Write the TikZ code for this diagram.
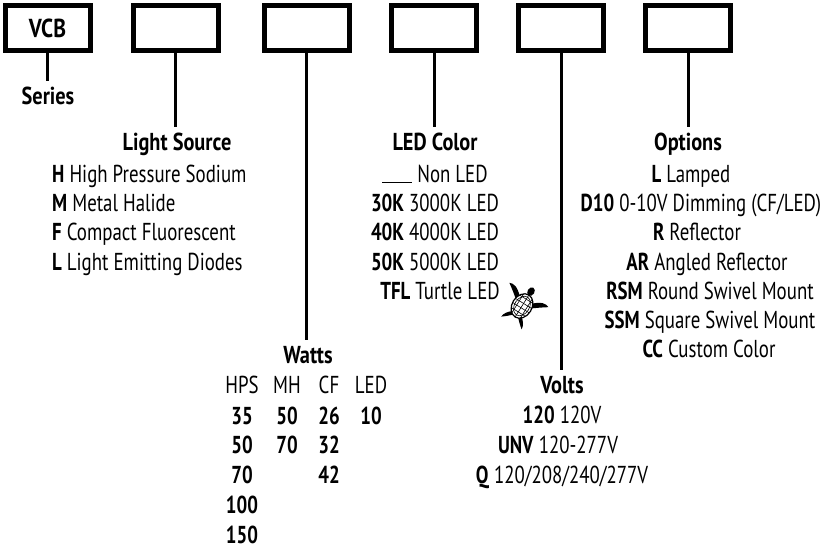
\documentclass[tikz,border=0pt]{standalone}
\usepackage{fontspec}
\setmainfont[FakeStretch=0.77]{PT Sans}
\newfontfamily\titlefont[FakeStretch=0.83]{PT Sans}
\begin{document}
\fontsize{24.5}{28}\selectfont
\begin{tikzpicture}[x=1pt,y=-1pt,
  box/.style={draw,line width=5pt,minimum width=85pt,minimum height=45pt,inner sep=0pt},
  conn/.style={line width=3pt},
  title/.style={font=\titlefont\bfseries,anchor=base,text height=17pt,inner ysep=6pt,inner xsep=0pt},
  item/.style={anchor=base,inner sep=0pt},
  lit/.style={anchor=base west,inner sep=0pt}]
\useasboundingbox (0,0) rectangle (825,549);
% boxes
\node[box,font=\titlefont\bfseries\fontsize{26}{28}\selectfont] (b1) at (47.5,28) {VCB};
\node[box] (b2) at (175.5,28) {};
\node[box] (b3) at (306.5,28) {};
\node[box] (b4) at (434,28) {};
\node[box] (b5) at (561,28) {};
\node[box] (b6) at (688,28) {};
% titles
\node[title] (series) at (48,104) {Series};
\node[title] (lsrc) at (177,150) {Light Source};
\node[title] (watts) at (308,363) {Watts};
\node[title] (ledc) at (435,150) {LED Color};
\node[title] (volts) at (562,393) {Volts};
\node[title] (opts) at (688,150) {Options};
% connectors
\draw[conn] (b1.south) -- (b1.south |- series.north);
\draw[conn] (b2.south) -- (b2.south |- lsrc.north);
\draw[conn] (b3.south) -- (b3.south |- watts.north);
\draw[conn] (b4.south) -- (b4.south |- ledc.north);
\draw[conn] (b5.south) -- (b5.south |- volts.north);
\draw[conn] (b6.south) -- (b6.south |- opts.north);
% light source
\node[lit] (ls1) at (52,182) {\textbf{H} High Pressure Sodium};
\node[lit] (ls2) at (52,211) {\textbf{M} Metal Halide};
\node[lit] (ls3) at (52,240.5) {\textbf{F} Compact Fluorescent};
\node[lit] (ls4) at (52,270) {\textbf{L} Light Emitting Diodes};
% LED color
\node[item] (lc1) at (435,182) {\rule[-1pt]{30pt}{1.5pt} Non LED};
\node[item] (lc2) at (435,211) {\textbf{30K} 3000K LED};
\node[item] (lc3) at (435,240.5) {\textbf{40K} 4000K LED};
\node[item] (lc4) at (435,270) {\textbf{50K} 5000K LED};
\node[item] (lc5) at (440,299) {\textbf{TFL} Turtle LED};
% options
\node[item] (o1) at (691,182) {\textbf{L} Lamped};
\node[item] (o2) at (701,211) {\textbf{D10} 0-10V Dimming (CF/LED)};
\node[item] (o3) at (697,240.5) {\textbf{R} Reflector};
\node[item] (o4) at (707,270) {\textbf{AR} Angled Reflector};
\node[item] (o5) at (710,299) {\textbf{RSM} Round Swivel Mount};
\node[item] (o6) at (710,328) {\textbf{SSM} Square Swivel Mount};
\node[item] (o7) at (709,357) {\textbf{CC} Custom Color};
% watts
\node[item] (wh1) at (242,393) {HPS};
\node[item] (wh2) at (287,393) {MH};
\node[item] (wh3) at (329,393) {CF};
\node[item] (wh4) at (371,393) {LED};
\node[item,font=\bfseries] (w11) at (242,424) {35};
\node[item,font=\bfseries] (w12) at (287,424) {50};
\node[item,font=\bfseries] (w13) at (329,424) {26};
\node[item,font=\bfseries] (w14) at (371,424) {10};
\node[item,font=\bfseries] (w21) at (242,453.5) {50};
\node[item,font=\bfseries] (w22) at (287,453.5) {70};
\node[item,font=\bfseries] (w23) at (329,453.5) {32};
\node[item,font=\bfseries] (w31) at (242,483) {70};
\node[item,font=\bfseries] (w33) at (329,483) {42};
\node[item,font=\bfseries] (w41) at (242,513) {100};
\node[item,font=\bfseries] (w51) at (242,543) {150};
% volts
\node[item] (v1) at (562,423) {\textbf{120} 120V};
\node[item] (v2) at (558,453) {\textbf{UNV} 120-277V};
\node[item] (v3) at (562,483) {\textbf{Q} 120/208/240/277V};
% turtle
\begin{scope}[shift={(522,306)},rotate=-32]
  \fill (0,-17) ellipse [x radius=3.5, y radius=4.5];
  \fill (-7,-7) .. controls (-14,-14) and (-19,-15) .. (-23,-13) .. controls (-17,-9) and (-12,-5) .. (-8,-2) -- cycle;
  \fill (7,-7) .. controls (14,-14) and (19,-15) .. (23,-13) .. controls (17,-9) and (12,-5) .. (8,-2) -- cycle;
  \fill (-5,9) .. controls (-9,12) and (-12,16) .. (-12,20) .. controls (-8,17) and (-5,14) .. (-2,11) -- cycle;
  \fill (5,9) .. controls (9,12) and (12,16) .. (12,20) .. controls (8,17) and (5,14) .. (2,11) -- cycle;
  \draw[line width=1.2pt,fill=white] (0,0) ellipse [x radius=10, y radius=13];
  \begin{scope}
    \clip (0,0) ellipse [x radius=10, y radius=13];
    \draw[line width=0.6pt] (0,0) ellipse [x radius=7.5, y radius=10.5];
    \foreach \xx in {-5,0,5} \draw[line width=0.6pt] (\xx,-14) -- (\xx,14);
    \foreach \yy in {-8,-3,2,7} \draw[line width=0.6pt] (-11,\yy) -- (11,\yy);
  \end{scope}
\end{scope}
\end{tikzpicture}
\end{document}
